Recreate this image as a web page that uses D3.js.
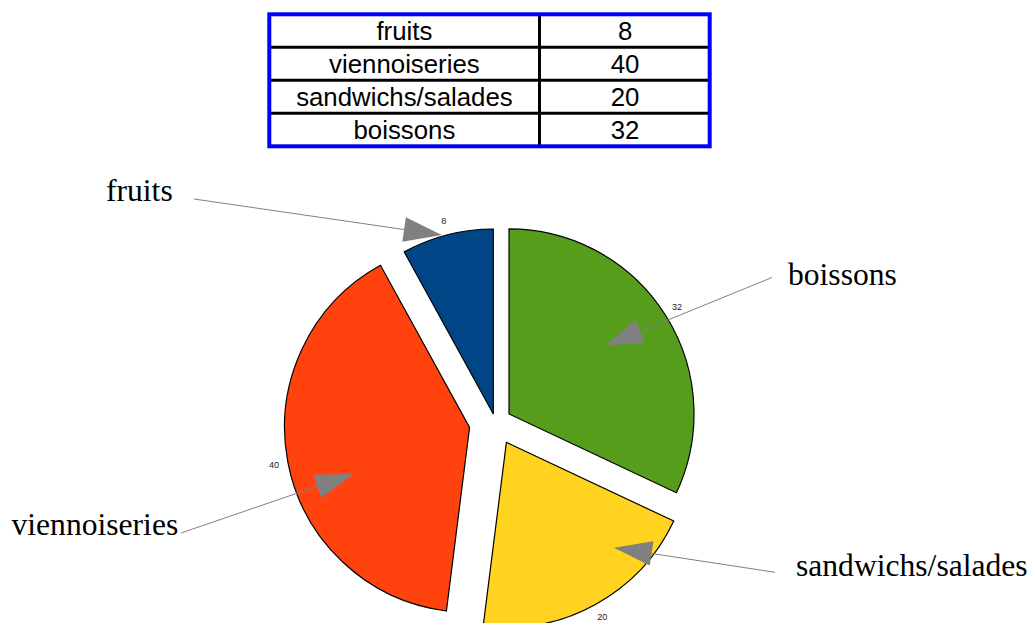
<!DOCTYPE html>
<html>
<head>
<meta charset="utf-8">
<script src="https://cdn.jsdelivr.net/npm/d3@7"></script>
<style>
  html, body { margin: 0; padding: 0; background: #fff; }
  svg { display: block; }
</style>
</head>
<body>
<svg id="chart" width="1031" height="623"></svg>
<script>
// ---- data ----
const categories = ["fruits", "viennoiseries", "sandwichs/salades", "boissons"];
const values = [8, 40, 20, 32];
const colors = ["#004586", "#ff420e", "#ffd320", "#579d1c"];

// ---- layout / style (not data) ----
const W = 1031, H = 623;
const pieCenter = [495.5, 422.5];
const radius = 185;
const explode = [8.8, 26.4, 22.6, 16];   // per-slice offset, px
const valueLabelR = 199;
const table = { x: 269.3, y: 14.3, w: 440.4, h: 132, colX: 539.5 };
const annotations = [
  { text: "fruits",            tx: 106, ty: 200.5, from: [194, 199],   to: [441.7, 235] },
  { text: "viennoiseries",     tx: 11.5, ty: 535,  from: [181, 533],   to: [353.3, 474] },
  { text: "sandwichs/salades", tx: 796, ty: 576,   from: [775, 572.3], to: [614, 547.7] },
  { text: "boissons",          tx: 788, ty: 285,   from: [772, 277.5], to: [605, 345.7] }
];

const svg = d3.select("#chart");

// ---- table ----
const yRow = d3.scaleBand().domain(categories).range([table.y, table.y + table.h]);
const gT = svg.append("g");
categories.forEach((c, i) => {
  const yc = yRow(c) + yRow.bandwidth() / 2;
  gT.append("text")
    .attr("x", (table.x + table.colX) / 2)
    .attr("y", yc + 9)
    .attr("text-anchor", "middle")
    .attr("font-family", "Liberation Sans, Arial, sans-serif")
    .attr("font-size", 25.8)
    .attr("fill", "#000")
    .text(c);
  gT.append("text")
    .attr("x", (table.colX + table.x + table.w) / 2 + 0.5)
    .attr("y", yc + 9)
    .attr("text-anchor", "middle")
    .attr("font-family", "Liberation Sans, Arial, sans-serif")
    .attr("font-size", 25.8)
    .attr("fill", "#000")
    .text(values[i]);
  if (i > 0) {
    gT.append("line")
      .attr("x1", table.x).attr("x2", table.x + table.w)
      .attr("y1", yRow(c)).attr("y2", yRow(c))
      .attr("stroke", "#000").attr("stroke-width", 3);
  }
});
gT.append("line")
  .attr("x1", table.colX).attr("x2", table.colX)
  .attr("y1", table.y).attr("y2", table.y + table.h)
  .attr("stroke", "#000").attr("stroke-width", 3);
gT.append("rect")
  .attr("x", table.x).attr("y", table.y)
  .attr("width", table.w).attr("height", table.h)
  .attr("fill", "none").attr("stroke", "#0000ff").attr("stroke-width", 4);

// ---- pie ----
const pie = d3.pie().sort(null).value(d => d.v).startAngle(0).endAngle(-2 * Math.PI);
const arcs = pie(categories.map((c, i) => ({ c, v: values[i], i })));
const arc = d3.arc().innerRadius(0).outerRadius(radius);

const gP = svg.append("g").attr("transform", `translate(${pieCenter[0]},${pieCenter[1]})`);
arcs.forEach((a, k) => {
  const mid = (a.startAngle + a.endAngle) / 2;
  const dx = Math.sin(mid) * explode[k], dy = -Math.cos(mid) * explode[k];
  const g = gP.append("g").attr("transform", `translate(${dx},${dy})`);
  g.append("path")
    .attr("d", arc(a))
    .attr("fill", colors[k])
    .attr("stroke", "#000")
    .attr("stroke-width", 1.2)
    .attr("stroke-linejoin", "miter");
  g.append("text")
    .attr("x", Math.sin(mid) * valueLabelR)
    .attr("y", -Math.cos(mid) * valueLabelR + 3)
    .attr("text-anchor", "middle")
    .attr("font-family", "Liberation Sans, Arial, sans-serif")
    .attr("font-size", 9)
    .attr("fill", "#222")
    .text(a.data.v);
});

// ---- annotations ----
const gA = svg.append("g");
annotations.forEach(an => {
  const [x1, y1] = an.from, [x2, y2] = an.to;
  const len = Math.hypot(x2 - x1, y2 - y1);
  const ux = (x2 - x1) / len, uy = (y2 - y1) / len;
  const L = 38, hw = 12.3;
  const bx = x2 - ux * L, by = y2 - uy * L;
  gA.append("line")
    .attr("x1", x1).attr("y1", y1).attr("x2", bx).attr("y2", by)
    .attr("stroke", "#808080").attr("stroke-width", 1);
  gA.append("path")
    .attr("d", d3.line()([[x2, y2], [bx - uy * hw, by + ux * hw], [bx + uy * hw, by - ux * hw]]) + "Z")
    .attr("fill", "#808080");
  gA.append("text")
    .attr("x", an.tx).attr("y", an.ty)
    .attr("font-family", "Liberation Serif, Times New Roman, serif")
    .attr("font-size", 31.6)
    .attr("fill", "#000")
    .text(an.text);
});
</script>
</body>
</html>
